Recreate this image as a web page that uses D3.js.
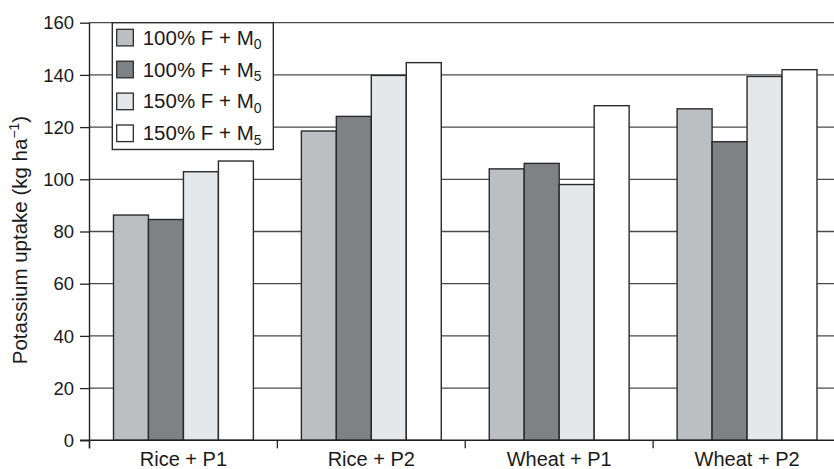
<!DOCTYPE html>
<html>
<head>
<meta charset="utf-8">
<script src="https://cdn.jsdelivr.net/npm/d3@7"></script>
<style>
  html, body { margin: 0; padding: 0; background: #fff; }
  svg { display: block; font-family: "Liberation Sans", Arial, Helvetica, sans-serif; }
</style>
</head>
<body>
<svg id="chart" width="834" height="469"></svg>
<script>
// Potassium uptake by cropping system and fertiliser/manure treatment
const categories = ["Rice + P1", "Rice + P2", "Wheat + P1", "Wheat + P2"];
const seriesNames = ["100% F + M|0", "100% F + M|5", "150% F + M|0", "150% F + M|5"];
const s100M0 = [86.3, 118.5, 104.0, 127.0];
const s100M5 = [84.6, 124.1, 106.1, 114.4];
const s150M0 = [102.9, 139.8, 98.0, 139.4];
const s150M5 = [107.0, 144.7, 128.2, 142.0];
const yTicks = [0, 20, 40, 60, 80, 100, 120, 140, 160];

const seriesValues = [s100M0, s100M5, s150M0, s150M5];
const fills = ["#bdbec2", "#808185", "#e6e7e9", "#ffffff"];
const strokeCol = "#2b2b2b";

const svg = d3.select("#chart");
const plotLeft = 89.5, plotRight = 841, plotTop = 22.7, plotBottom = 440.3;

const x = d3.scaleBand().domain(categories).range([plotLeft, plotRight]).paddingInner(0).paddingOuter(0);
const xs = d3.scaleBand().domain(d3.range(seriesNames.length))
  .range([0, x.bandwidth()]).paddingInner(0).paddingOuter(0.686);
const y = d3.scaleLinear().domain([0, 160]).range([plotBottom, plotTop]);

// horizontal gridlines (the 160 line doubles as the frame top)
svg.append("g").selectAll("line").data(yTicks.filter(d => d > 0)).join("line")
  .attr("x1", plotLeft).attr("x2", plotRight)
  .attr("y1", d => y(d)).attr("y2", d => y(d))
  .attr("stroke", "#4a4a4a").attr("stroke-width", 1.3);

// bars
const rows = categories.map((c, i) => ({ c, vals: seriesValues.map(s => s[i]) }));
svg.append("g").selectAll("g").data(rows).join("g")
  .attr("transform", d => `translate(${x(d.c)},0)`)
  .selectAll("rect").data(d => d.vals.map((v, k) => ({ v, k }))).join("rect")
  .attr("x", d => xs(d.k)).attr("width", xs.bandwidth())
  .attr("y", d => y(d.v)).attr("height", d => y(0) - y(d.v))
  .attr("fill", d => fills[d.k]).attr("stroke", strokeCol).attr("stroke-width", 1.4);

// y axis
const yAxis = d3.axisLeft(y).tickValues(yTicks).tickSize(9.5).tickPadding(6).tickFormat(d3.format("d"));
const gy = svg.append("g").attr("transform", `translate(${plotLeft},0)`).call(yAxis);
gy.select(".domain").attr("d", `M0,${plotTop}V${plotBottom + 8}`).attr("stroke", "#222").attr("stroke-width", 1.4);
gy.selectAll(".tick line").attr("stroke", "#222").attr("stroke-width", 1.3);
gy.selectAll(".tick text").attr("font-size", 18.5).attr("fill", "#1a1a1a")
  .attr("font-family", "'Liberation Sans', Arial, sans-serif").attr("dy", "0.34em");

// x axis with ticks at category boundaries
const gx = svg.append("g").attr("transform", `translate(0,${plotBottom})`);
gx.append("line").attr("x1", plotLeft - 9.5).attr("x2", plotRight).attr("y1", 0).attr("y2", 0)
  .attr("stroke", "#222").attr("stroke-width", 1.4);
gx.selectAll("line.sep").data(categories).join("line").attr("class", "sep")
  .attr("x1", d => x(d)).attr("x2", d => x(d)).attr("y1", 0).attr("y2", 8)
  .attr("stroke", "#222").attr("stroke-width", 1.3);
gx.selectAll("text").data(categories).join("text")
  .attr("x", d => x(d) + x.bandwidth() / 2).attr("y", 26)
  .attr("text-anchor", "middle").attr("font-size", 20).attr("fill", "#1a1a1a")
  .text(d => d);

// y axis title
const yt = svg.append("text")
  .attr("transform", "translate(27,240) rotate(-90)")
  .attr("text-anchor", "middle").attr("font-size", 20.5).attr("fill", "#1a1a1a");
yt.append("tspan").text("Potassium uptake (kg ha");
yt.append("tspan").attr("font-size", 14).attr("dy", "-0.55em").text("\u22121");
yt.append("tspan").attr("dy", "0.38em").text(")");

// legend
const lg = svg.append("g");
lg.append("rect").attr("x", 112.3).attr("y", plotTop).attr("width", 161).attr("height", 126.8)
  .attr("fill", "#fff").attr("stroke", strokeCol).attr("stroke-width", 1.4);
const items = lg.selectAll("g.item").data(seriesNames).join("g").attr("class", "item")
  .attr("transform", (d, i) => `translate(116.7,${37.6 + i * 31.9})`);
items.append("rect").attr("x", 0).attr("y", -8.3).attr("width", 16.6).attr("height", 16.6)
  .attr("fill", (d, i) => fills[i]).attr("stroke", strokeCol).attr("stroke-width", 1.3);
const lt = items.append("text").attr("x", 26).attr("y", 7).attr("font-size", 20.5).attr("fill", "#1a1a1a");
lt.append("tspan").text(d => d.split("|")[0]);
lt.append("tspan").attr("font-size", 14).attr("dy", "0.3em").text(d => d.split("|")[1]);
</script>
</body>
</html>
